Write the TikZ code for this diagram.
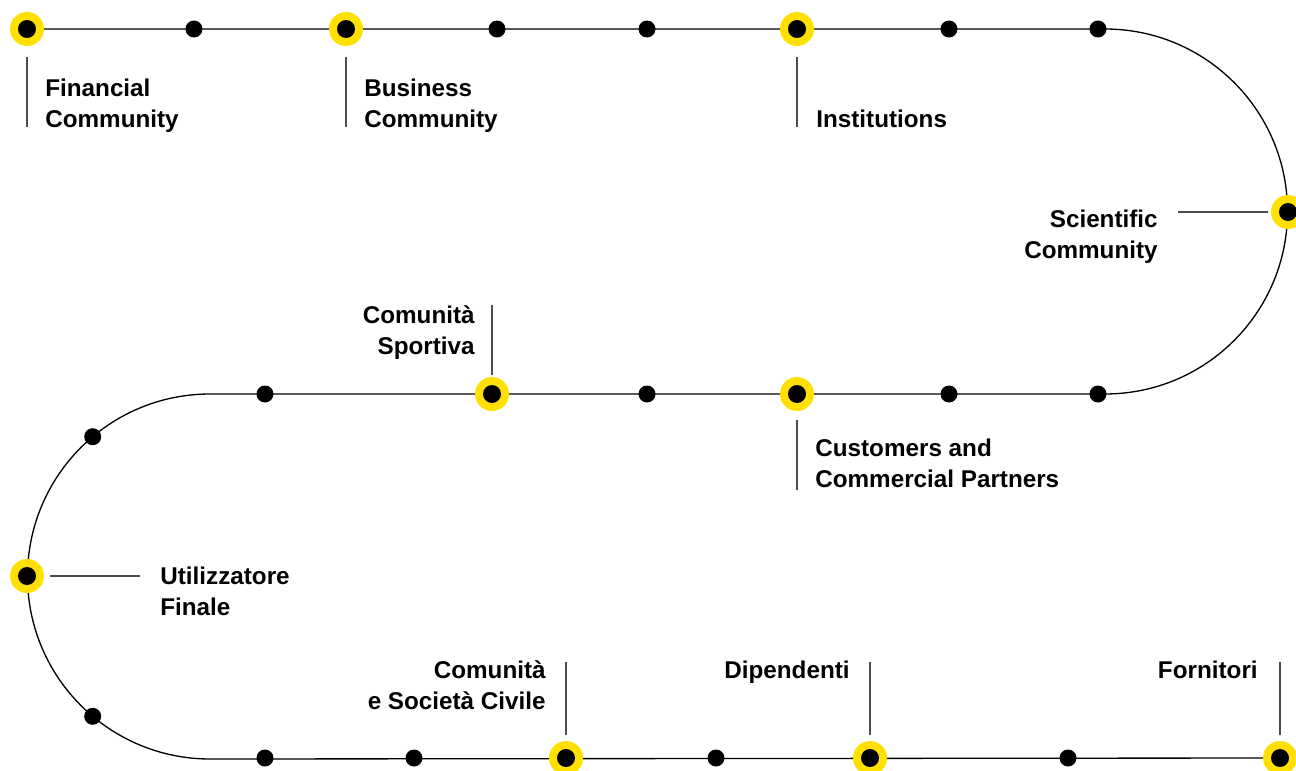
\documentclass[tikz,border=0pt]{standalone}
\usepackage{fontspec}
\setmainfont{Liberation Sans}
\usetikzlibrary{positioning,calc}
\definecolor{hubyellow}{HTML}{FFE000}
\tikzset{
  track/.style   ={line width=0.75pt, black},
  hub/.style     ={circle, inner sep=0pt, minimum size=6.8mm, fill=hubyellow,
    path picture={\fill[black] (path picture bounding box.center) circle (1.8mm);}},
  stop/.style    ={circle, inner sep=0pt, minimum size=3.4mm, fill=black},
  tick/.style    ={line width=0.6pt, black!70},
  stakeholder/.style={inner sep=0pt, font=\bfseries\fontsize{13.8}{17.1}\selectfont}}

\begin{document}
\begin{tikzpicture}[x=0.02cm, y=-0.02cm]
\useasboundingbox (0,0) rectangle (1296,771);
% the winding track
\draw[track] (27,29) -- (1105,29) arc[start angle=-90, end angle=90, radius=182.5]
  -- (210,394) arc[start angle=270, end angle=90, radius=182.5] -- (1280,758);
% small stops
\foreach \x/\y [count=\i] in {194/29,497/29,647/29,949/29,1098/29,
    265/394,647/394,949/394,1098/394,265/758,414/758,716/758,1068/758}
  \node[stop] (s\i) at (\x,\y) {};
\node[stop] (s14) at ($(210,576.5)+(230:182.5)$) {};
\node[stop] (s15) at ($(210,576.5)+(130:182.5)$) {};
% stakeholder hubs
\node[hub] (fin) at (27,29) {};
\node[hub] (bus) at (346,29) {};
\node[hub] (ins) at (797,29) {};
\node[hub] (sci) at (1288,212) {};
\node[hub] (spo) at (492,394) {};
\node[hub] (cus) at (797,394) {};
\node[hub] (ute) at (27,576) {};
\node[hub] (civ) at (566,758) {};
\node[hub] (dip) at (870,758) {};
\node[hub] (for) at (1280,758) {};
% ticks
\foreach \h in {fin,bus,ins}
  \draw[tick] (\h) ++(0,28) -- ++(0,70);
\draw[tick] (cus) ++(0,26) -- ++(0,70);
\draw[tick] (spo) ++(0,-19) -- ++(0,-70);
\foreach \h in {civ,dip,for}
  \draw[tick] (\h) ++(0,-23) -- ++(0,-73);
\draw[tick] (sci) ++(-20,0) -- ++(-90,0);
\draw[tick] (ute) ++(23,0) -- ++(90,0);
% labels
\node[stakeholder, anchor=base west, align=left] (l-fin) at (45,127) {Financial\\Community};
\node[stakeholder, anchor=base west, align=left] (l-bus) at (364,127) {Business\\Community};
\node[stakeholder, anchor=base west] (l-ins) at (816,127) {Institutions};
\node[stakeholder, anchor=base east, align=right] (l-sci) at (1158,258) {Scientific\\Community};
\node[stakeholder, anchor=base east, align=right] (l-spo) at (475,354) {Comunità\\Sportiva};
\node[stakeholder, anchor=base west, align=left] (l-cus) at (815,487) {Customers and\\Commercial Partners};
\node[stakeholder, anchor=base west, align=left] (l-ute) at (160,615) {Utilizzatore\\Finale};
\node[stakeholder, anchor=base east, align=right] (l-civ) at (546,709) {Comunità\\e Società Civile};
\node[stakeholder, anchor=base east] (l-dip) at (850,678) {Dipendenti};
\node[stakeholder, anchor=base east] (l-for) at (1258,678) {Fornitori};
\end{tikzpicture}
\end{document}
